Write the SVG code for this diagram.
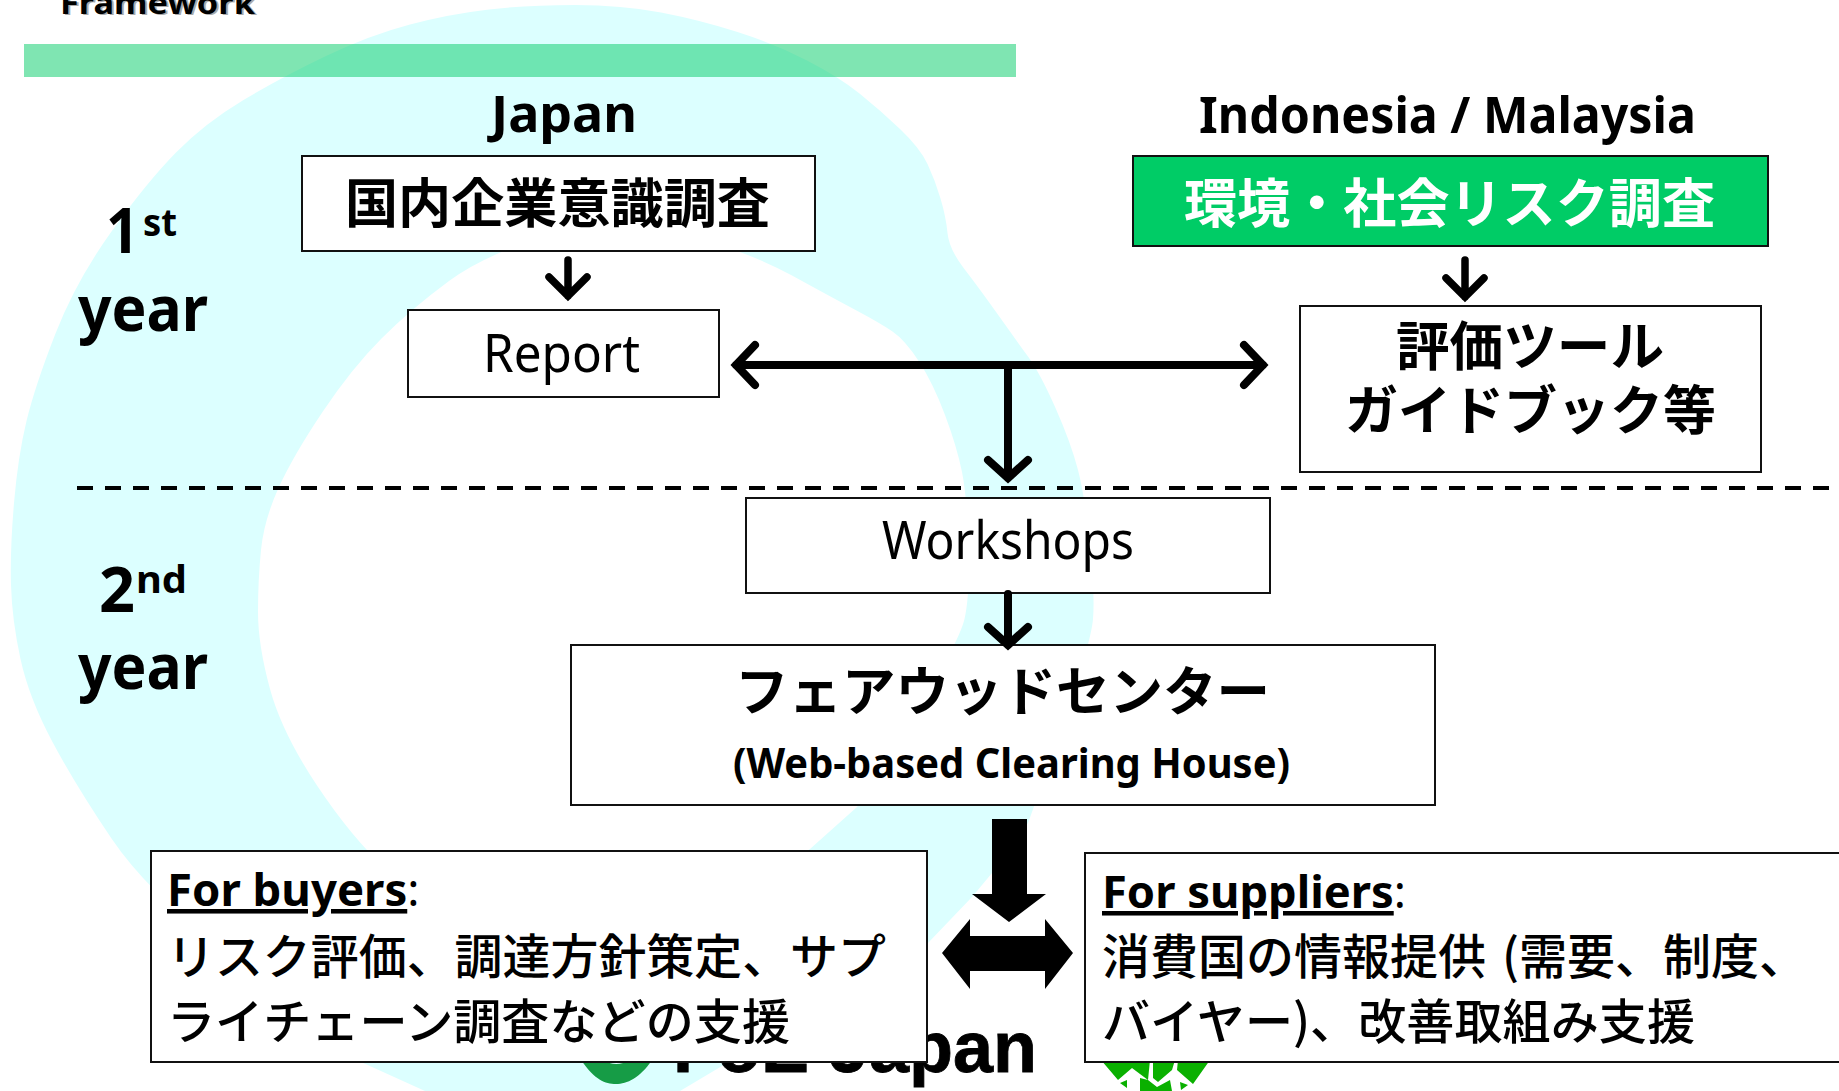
<svg xmlns="http://www.w3.org/2000/svg" width="1839" height="1091" viewBox="0 0 1839 1091">
<style>
.box{fill:#fff;stroke:#111;stroke-width:2}
.t{font-family:"Noto Sans","Noto Sans CJK JP",sans-serif;fill:#000}
.b{font-weight:700}
.j{font-family:"Noto Sans CJK JP","Noto Sans",sans-serif;font-weight:700;fill:#000}
.jm{font-family:"Noto Sans CJK JP","Noto Sans",sans-serif;font-weight:500;fill:#000}
.ar{fill:none;stroke:#000;stroke-width:7.5;stroke-linecap:round;stroke-linejoin:miter;stroke-miterlimit:10}
</style>
<rect width="1839" height="1091" fill="#fff"/>
<g id="background">
<path fill="#dcffff" fill-rule="evenodd" d="M425,1091 L361,1062 Q290,1000 218.5,945.5 Q147,891 111.5,838.5 Q76,786 52.5,742 Q29,698 20.5,659 Q12,620 11,585 Q10,550 14,503 Q18,456 26.5,421 Q35,386 55.5,333.5 Q76,281 111.5,231.5 Q147,182 176,152.5 Q205,123 243.5,100 Q282,77 326,56 Q370,35 410,24.5 Q450,14 489,9.5 Q528,5 575,5 Q622,5 661,12.5 Q700,20 737.5,32 Q775,44 807,60.5 Q839,77 859.5,93.5 Q880,110 900,129 Q920,148 927.5,164 Q935,180 940.5,198.5 Q946,217 947.5,233 Q949,249 964,268.5 Q979,288 997.5,314 Q1016,340 1028,356.5 Q1040,373 1055.5,408 Q1071,443 1078,470 Q1085,497 1090,546 Q1095,595 1093,619 Q1091,643 1062.5,725 Q1034,807 1028,823 L992,873 L972,897 L928,943 L722,1066 L680,1091 Z M258,612 Q258,645 270,689 Q282,733 317,785.5 Q352,838 386,869 L420,900 L600,990 L810,849 L857,807 L908,725 Q959,643 964.5,619 Q970,595 968.5,546 Q967,497 962,472 Q957,447 945,415 Q933,383 919,361.5 Q905,340 892.5,331.5 Q880,323 856.5,310.5 Q833,298 792,275.5 Q751,253 685.5,234 Q620,215 553.5,234 Q487,253 449,281 Q411,309 381.5,338.5 Q352,368 322.5,412 Q293,456 278.5,488 Q264,520 261,550 Q258,580 258,612 Z"/>
<rect x="24" y="44" width="992" height="33" fill="#00cc66" fill-opacity=".5"/>
<text class="t b" x="62" y="15" font-size="31" textLength="195" lengthAdjust="spacingAndGlyphs" style="fill:#aaa">Framework</text>
<text class="t b" x="60" y="14" font-size="31" textLength="195" lengthAdjust="spacingAndGlyphs">Framework</text>
</g>
<g id="logos">
<text x="673" y="1072" font-family="Liberation Sans, sans-serif" font-weight="700" font-size="72" fill="#000" stroke="#000" stroke-width=".8">FoE Japan</text>
<path fill="#169c46" d="M581,1060 C595,1080 605,1084 616,1084 C627,1084 640,1078 652,1060 L630,1060 Q616,1068 603,1060 Z"/>
<path fill="#0ab000" d="M1101,1060 L1118,1080 L1132,1068 L1148,1080 L1150,1060 Z M1153,1060 L1153,1078 L1158,1082 L1172,1070 L1175,1060 Z M1178,1060 L1177,1070 L1193,1084 L1210,1060 Z M1120,1083 L1127,1080 L1127,1088 Z M1140,1078 L1148,1080 L1157,1087 L1170,1080 L1172,1091 L1140,1091 Z M1180,1082 L1188,1085 L1181,1090 Z"/>
</g>
<g id="labels">
<text class="t b" x="491" y="132" font-size="50" textLength="146" lengthAdjust="spacingAndGlyphs">Japan</text>
<text class="t b" x="1199" y="133" font-size="50" textLength="497" lengthAdjust="spacingAndGlyphs">Indonesia / Malaysia</text>
<text class="t b" x="106" y="253" font-size="62" textLength="33" lengthAdjust="spacingAndGlyphs">1</text>
<text class="t b" x="143" y="236" font-size="38" textLength="34" lengthAdjust="spacingAndGlyphs">st</text>
<text class="t b" x="78" y="331" font-size="62" textLength="130" lengthAdjust="spacingAndGlyphs">year</text>
<text class="t b" x="99" y="612" font-size="62" textLength="36" lengthAdjust="spacingAndGlyphs">2</text>
<text class="t b" x="136" y="593" font-size="38" textLength="51" lengthAdjust="spacingAndGlyphs">nd</text>
<text class="t b" x="78" y="689" font-size="62" textLength="130" lengthAdjust="spacingAndGlyphs">year</text>
</g>
<g id="divider"><line x1="77" y1="488" x2="1839" y2="488" stroke="#000" stroke-width="4" stroke-dasharray="16 12"/></g>
<g id="node-survey-jp"><rect class="box" x="302" y="156" width="513" height="95"/>
<text class="j" x="345" y="223" font-size="53" textLength="425" lengthAdjust="spacingAndGlyphs">国内企業意識調査</text></g>
<g id="node-survey-id"><rect class="box" x="1133" y="156" width="635" height="90" style="fill:#00cc66"/>
<text class="j" x="1184" y="223" font-size="53" textLength="531" lengthAdjust="spacingAndGlyphs" style="fill:#fff">環境・社会リスク調査</text></g>
<g id="node-report"><rect class="box" x="408" y="310" width="311" height="87"/>
<text class="t" x="483" y="372" font-size="52" textLength="157" lengthAdjust="spacingAndGlyphs">Report</text></g>
<g id="node-tools"><rect class="box" x="1300" y="306" width="461" height="166"/>
<text class="j" x="1396" y="366" font-size="53" textLength="268" lengthAdjust="spacingAndGlyphs">評価ツール</text>
<text class="j" x="1345" y="430" font-size="53" textLength="371" lengthAdjust="spacingAndGlyphs">ガイドブック等</text></g>
<g id="node-workshops"><rect class="box" x="746" y="498" width="524" height="95"/>
<text class="t" x="882" y="559" font-size="52" textLength="252" lengthAdjust="spacingAndGlyphs">Workshops</text></g>
<g id="node-center"><rect class="box" x="571" y="645" width="864" height="160"/>
<text class="j" x="735" y="711" font-size="53" textLength="535" lengthAdjust="spacingAndGlyphs">フェアウッドセンター</text>
<text class="t b" x="733" y="778" font-size="42" textLength="557" lengthAdjust="spacingAndGlyphs">(Web-based Clearing House)</text></g>
<g id="node-buyers"><rect class="box" x="151" y="851" width="776" height="211"/>
<text class="t" x="167" y="906" font-size="45.5"><tspan class="b" text-decoration="underline">For buyers</tspan><tspan>:</tspan></text>
<text class="jm" x="167" y="974" font-size="48" textLength="719" lengthAdjust="spacingAndGlyphs">リスク評価、調達方針策定、サプ</text>
<text class="jm" x="167" y="1039" font-size="48" textLength="623" lengthAdjust="spacingAndGlyphs">ライチェーン調査などの支援</text></g>
<g id="node-suppliers"><rect class="box" x="1085" y="853" width="770" height="209"/>
<text class="t" x="1102" y="908" font-size="45.3"><tspan class="b" text-decoration="underline">For suppliers</tspan><tspan>:</tspan></text>
<text class="jm" x="1102" y="974" font-size="48">消費国の情報提供<tspan x="1502">(需要、制度、</tspan></text>
<text class="jm" x="1102" y="1039" font-size="48" textLength="593" lengthAdjust="spacingAndGlyphs">バイヤー)、改善取組み支援</text></g>
<g id="connectors">
<path class="ar" d="M568,260 V296 M549,277 L568,296 L587,277"/>
<path class="ar" d="M1465,260 V297 M1446,278 L1465,297 L1484,278"/>
<path class="ar" style="stroke-width:8" d="M736,365 H1263 M755,345 L736,365 L755,385 M1244,345 L1263,365 L1244,385"/>
<path class="ar" style="stroke-width:8" d="M1008,365 V478 M988,460 L1008,478 L1028,460"/>
<path class="ar" style="stroke-width:8" d="M1008,594 V645 M988,627 L1008,645 L1028,627"/>
<polygon fill="#000" points="992,819 1027,819 1027,894 1046,894 1009,922 972,894 992,894"/>
<polygon fill="#000" points="942,953 970,919 970,936 1045,936 1045,919 1073,953 1045,989 1045,971 970,971 970,989"/>
</g>
</svg>
